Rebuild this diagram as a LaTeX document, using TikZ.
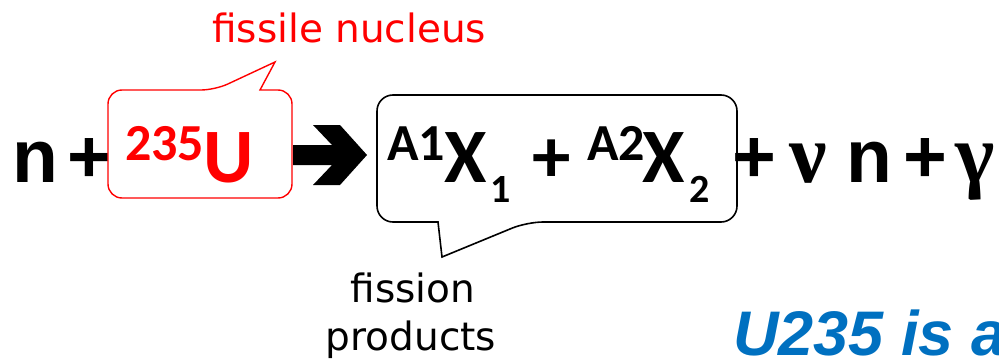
\documentclass[tikz,border=0pt]{standalone}
\usepackage{fontspec}
\setmainfont{Carlito}
\newfontfamily\plainfont{Liberation Sans}
\newfontfamily\greekfont{Liberation Serif}
\newfontfamily\notefont{DejaVu Sans}
\definecolor{nucred}{RGB}{255,0,0}
\definecolor{noteblue}{RGB}{0,112,192}

\begin{document}
\begin{tikzpicture}[x=1pt,y=-1pt,
  every node/.style={inner sep=0pt},
  bigsym/.style={font=\fontsize{77}{77}\selectfont\bfseries},
  supsym/.style={font=\fontsize{52}{52}\selectfont\bfseries},
  subsym/.style={font=\fontsize{40}{40}\selectfont\bfseries},
  plainsym/.style={font=\fontsize{75}{75}\selectfont\plainfont\bfseries},
  greeksym/.style={font=\fontsize{84}{84}\selectfont\greekfont\bfseries},
  notetext/.style={font=\fontsize{39}{39}\selectfont\notefont}]
\clip (0,0) rectangle (999,364);
% left hand side
\node[plainsym,anchor=base west] (n1) at (12,182) {n};
\node[plainsym,anchor=base] (p1) at (89,182) {+};
% fissile nucleus bubble
\draw[nucred,line width=1.4pt] (215,90) [sharp corners] -- (275,62) -- (260,90)
  [rounded corners=14] -- (292,90) -- (292,198) -- (108,198) -- (108,90) -- cycle;
\node[supsym,nucred,anchor=base west] (a235) at (125,160) {235};
\node[bigsym,nucred,anchor=base west] (u) at (203,182) {U};
\node[notetext,nucred,anchor=base west] (fiss) at (212,42) {fissile nucleus};
% reaction arrow
\fill (293,145) -- (332,145) -- (313,125) -- (340,125) -- (367,155) -- (340,185)
  -- (313,185) -- (332,165) -- (293,165) -- cycle;
% fission products bubble
\draw[line width=1.6pt] (527,222) [sharp corners] -- (442,257) -- (438,222)
  [rounded corners=16] -- (377,222) -- (377,95) -- (737,95) -- (737,222) -- cycle;
\node[supsym,anchor=base west] (a1) at (387,160) {A1};
\node[bigsym,anchor=base west] (x1) at (444,182) {X};
\node[subsym,anchor=base west] (s1) at (490,202) {1};
\node[bigsym,anchor=base] (p2) at (552,182) {+};
\node[supsym,anchor=base west] (a2) at (587,160) {A2};
\node[bigsym,anchor=base west] (x2) at (642,182) {X};
\node[subsym,anchor=base west] (s2) at (689,202) {2};
\node[notetext,anchor=base] (fp1) at (413,302) {fission};
\node[notetext,anchor=base] (fp2) at (411,350) {products};
% right hand side
\node[plainsym,anchor=base] (p3) at (754,182) {+};
\node[greeksym,anchor=base] (nu) at (808,182) {ν};
\node[plainsym,anchor=base] (n2) at (869,182) {n};
\node[plainsym,anchor=base] (p4) at (925,182) {+};
\node[greeksym,anchor=base] (ga) at (975,182) {γ};
% caption, cut at the edge
\node[font=\fontsize{63}{63}\selectfont\plainfont\bfseries\itshape,noteblue,anchor=base west] (cap) at (733,355) {U235 is a};
\end{tikzpicture}
\end{document}
